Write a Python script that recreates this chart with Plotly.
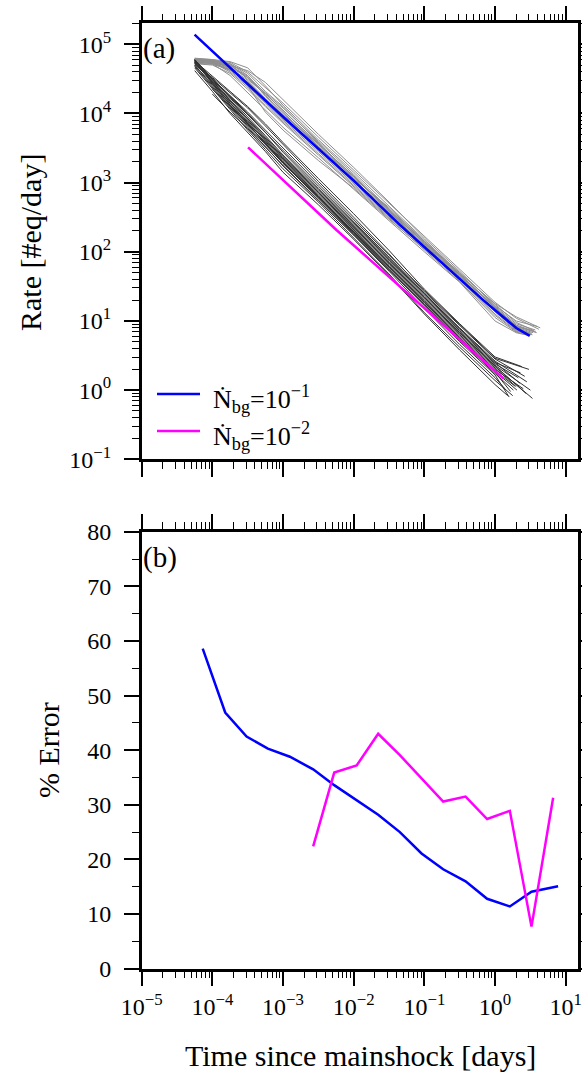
import plotly.graph_objects as go

# ---------------------------------------------------------------- data
# Panel (a): rates of individual synthetic sequences, given as log10(rate)
# sampled on a shared log10(time) grid, followed by each curve's last point.
LIGHT_LOG_T = [-4.25, -4.0, -3.75, -3.5, -3.25, -3.0, -2.5, -2.0, -1.5, -1.0, -0.5, 0.0, 0.3]
LIGHT_LOG_RATE = [
    [4.78, 4.76, 4.70, 4.52, 4.30, 4.08, 3.60, 3.12, 2.62, 2.15, 1.70, 1.24, 0.98],
    [4.75, 4.74, 4.62, 4.40, 4.15, 3.90, 3.45, 2.98, 2.52, 2.05, 1.60, 1.10, 0.86],
    [4.79, 4.77, 4.74, 4.60, 4.38, 4.15, 3.66, 3.18, 2.70, 2.22, 1.74, 1.27, 1.04],
    [4.72, 4.70, 4.58, 4.35, 4.10, 3.86, 3.40, 2.94, 2.49, 2.02, 1.57, 1.05, 0.84],
    [4.80, 4.78, 4.72, 4.55, 4.25, 4.00, 3.52, 3.08, 2.60, 2.12, 1.66, 1.20, 0.92],
    [4.77, 4.75, 4.66, 4.48, 4.22, 3.98, 3.56, 3.05, 2.55, 2.08, 1.63, 1.16, 0.90],
    [4.74, 4.73, 4.69, 4.62, 4.45, 4.20, 3.70, 3.22, 2.72, 2.20, 1.72, 1.22, 1.00],
    [4.76, 4.72, 4.55, 4.30, 4.05, 3.80, 3.36, 2.90, 2.45, 2.00, 1.56, 1.00, 0.83],
    [4.78, 4.77, 4.71, 4.50, 4.28, 4.05, 3.55, 3.10, 2.58, 2.14, 1.68, 1.19, 0.94],
    [4.73, 4.71, 4.64, 4.45, 4.18, 3.93, 3.47, 3.00, 2.54, 2.10, 1.62, 1.14, 0.88],
    [4.79, 4.78, 4.75, 4.66, 4.40, 4.12, 3.62, 3.15, 2.66, 2.18, 1.69, 1.25, 1.06],
    [4.75, 4.74, 4.60, 4.38, 4.12, 3.88, 3.42, 2.96, 2.50, 2.06, 1.59, 1.08, 0.85],
    [4.77, 4.76, 4.68, 4.40, 4.02, 3.76, 3.32, 2.92, 2.47, 2.04, 1.61, 1.13, 0.87],
    [4.78, 4.75, 4.72, 4.58, 4.32, 4.10, 3.58, 3.06, 2.64, 2.16, 1.67, 1.21, 0.96],
    [4.74, 4.72, 4.63, 4.46, 4.20, 3.96, 3.50, 3.02, 2.57, 2.11, 1.65, 1.18, 0.91],
    [4.76, 4.74, 4.67, 4.52, 4.26, 4.02, 3.53, 3.04, 2.59, 2.07, 1.61, 1.17, 0.89],
    [4.77, 4.75, 4.69, 4.54, 4.29, 4.04, 3.57, 3.09, 2.61, 2.13, 1.67, 1.19, 0.93],
    [4.75, 4.73, 4.65, 4.43, 4.16, 3.92, 3.48, 3.01, 2.56, 2.09, 1.64, 1.15, 0.89],
]
LIGHT_END = [
    (0.55, 0.86), (0.50, 0.80), (0.62, 0.88), (0.45, 0.80), (0.58, 0.84), (0.52, 0.82),
    (0.60, 0.92), (0.48, 0.79), (0.56, 0.85), (0.50, 0.81), (0.64, 0.90), (0.53, 0.80),
    (0.47, 0.82), (0.57, 0.87), (0.54, 0.83), (0.51, 0.81), (0.59, 0.83), (0.49, 0.82),
]

DARK_LOG_T = [-4.25, -4.0, -3.75, -3.5, -3.25, -3.0, -2.5, -2.0, -1.5, -1.0, -0.5, 0.0]
DARK_LOG_RATE = [
    [4.78, 4.50, 4.22, 3.95, 3.68, 3.40, 2.90, 2.40, 1.90, 1.38, 0.88, 0.40],
    [4.75, 4.45, 4.15, 3.88, 3.60, 3.32, 2.82, 2.32, 1.82, 1.30, 0.80, 0.32],
    [4.72, 4.52, 4.30, 4.08, 3.82, 3.55, 3.02, 2.50, 1.97, 1.42, 0.93, 0.45],
    [4.70, 4.40, 4.10, 3.82, 3.55, 3.28, 2.78, 2.28, 1.76, 1.24, 0.74, 0.26],
    [None, 4.28, 4.02, 3.78, 3.52, 3.25, 2.75, 2.25, 1.74, 1.22, 0.70, 0.22],
    [4.77, 4.48, 4.20, 3.92, 3.64, 3.36, 2.86, 2.36, 1.86, 1.34, 0.84, 0.36],
    [4.66, 4.36, 4.05, 3.76, 3.48, 3.20, 2.72, 2.20, 1.68, 1.12, 0.62, 0.14],
    [4.76, 4.54, 4.32, 4.10, 3.85, 3.58, 3.06, 2.55, 2.02, 1.46, 0.96, 0.48],
    [4.74, 4.46, 4.18, 3.90, 3.62, 3.34, 2.84, 2.34, 1.84, 1.32, 0.82, 0.34],
    [4.62, 4.32, 4.00, 3.72, 3.45, 3.15, 2.68, 2.18, 1.66, 1.10, 0.58, 0.08],
    [4.78, 4.50, 4.24, 3.98, 3.72, 3.46, 2.95, 2.44, 1.92, 1.40, 0.90, 0.42],
    [4.70, 4.42, 4.12, 3.84, 3.58, 3.30, 2.80, 2.30, 1.80, 1.28, 0.78, 0.30],
    [None, None, 4.12, 3.85, 3.58, 3.30, 2.80, 2.28, 1.78, 1.26, 0.76, 0.28],
    [4.73, 4.47, 4.19, 3.93, 3.66, 3.38, 2.88, 2.38, 1.88, 1.36, 0.86, 0.38],
    [4.68, 4.38, 4.08, 3.80, 3.52, 3.24, 2.74, 2.24, 1.72, 1.18, 0.66, 0.18],
    [4.76, 4.50, 4.26, 4.02, 3.76, 3.50, 2.98, 2.46, 1.95, 1.44, 0.95, 0.46],
    [4.74, 4.44, 4.16, 3.86, 3.56, 3.28, 2.78, 2.26, 1.75, 1.24, 0.72, 0.24],
    [None, 4.35, 4.10, 3.86, 3.62, 3.36, 2.86, 2.35, 1.84, 1.33, 0.83, 0.35],
    [4.71, 4.49, 4.25, 4.00, 3.73, 3.44, 2.92, 2.42, 1.92, 1.40, 0.89, 0.40],
    [4.77, 4.43, 4.13, 3.85, 3.57, 3.29, 2.79, 2.29, 1.79, 1.27, 0.75, 0.27],
]
DARK_END = [
    (0.35, 0.10), (0.30, 0.05), (0.42, 0.20), (0.22, -0.02), (0.20, -0.10), (0.50, 0.00),
    (0.25, -0.08), (0.38, 0.34), (0.53, -0.12), (0.18, -0.08), (0.45, 0.12), (0.40, 0.02),
    (0.28, 0.06), (0.33, 0.18), (0.14, 0.02), (0.48, 0.30), (0.26, 0.00), (0.44, -0.05),
    (0.36, 0.25), (0.31, 0.00),
]

# Fitted rate models for the two background rates
FIT1_T = [5.6e-5, 8.9e-4, 1.0e-2, 4.5e-2, 0.68, 2.0, 3.1]
FIT1_RATE = [1.38e5, 1.0e4, 1.07e3, 245, 20.0, 7.9, 6.1]
FIT2_T = [3.2e-4, 5.7e-3, 0.0736, 0.206, 1.32]
FIT2_RATE = [3240, 207, 20.2, 7.9, 1.47]

# Panel (b): percentage error of the fits
ERR1_T = [7.3e-5, 1.52e-4, 3.05e-4, 6.1e-4, 1.25e-3, 2.67e-3, 5.3e-3, 0.011, 0.0222,
          0.045, 0.0912, 0.1845, 0.383, 0.773, 1.62, 3.28, 7.8]
ERR1 = [58.6, 46.9, 42.5, 40.3, 38.8, 36.5, 33.6, 30.9, 28.2, 25.0, 21.1, 18.2, 16.0,
        12.8, 11.4, 14.1, 15.1]
ERR2_T = [2.67e-3, 5.3e-3, 0.011, 0.0222, 0.045, 0.0912, 0.1845, 0.383, 0.773, 1.62,
          3.28, 6.64]
ERR2 = [22.4, 35.9, 37.2, 43.0, 39.1, 34.8, 30.6, 31.5, 27.4, 28.9, 7.7, 31.3]

LEGEND_LABELS = ["Ṅ<sub>bg</sub>=10<sup>−1</sup>", "Ṅ<sub>bg</sub>=10<sup>−2</sup>"]
X_DECADES = list(range(-5, 2))
Y_DECADES = list(range(-1, 6))

# ---------------------------------------------------------------- style
W, H = 582, 1072
FONT = "Liberation Serif"
BLUE = "rgb(0,0,255)"
MAGENTA = "rgb(255,0,255)"
LIGHT = "rgb(142,142,142)"
DARK = "rgb(48,48,48)"


def px(x):
    return x / W


def py(y):
    return 1 - y / H


def power_label(k):
    return "10<sup>" + str(k).replace("-", "−") + "</sup>"


def log_minor(lo, hi):
    return [m * 10.0 ** k for k in range(lo, hi + 1) for m in range(2, 10)]


fig = go.Figure()

for vals, (et, er) in zip(LIGHT_LOG_RATE, LIGHT_END):
    xs = [10 ** t for t, v in zip(LIGHT_LOG_T, vals) if v is not None] + [10 ** et]
    ys = [10 ** v for v in vals if v is not None] + [10 ** er]
    fig.add_trace(go.Scatter(x=xs, y=ys, mode="lines", showlegend=False,
                             line=dict(color=LIGHT, width=1), xaxis="x", yaxis="y"))

for vals, (et, er) in zip(DARK_LOG_RATE, DARK_END):
    xs = [10 ** t for t, v in zip(DARK_LOG_T, vals) if v is not None] + [10 ** et]
    ys = [10 ** v for v in vals if v is not None] + [10 ** er]
    fig.add_trace(go.Scatter(x=xs, y=ys, mode="lines", showlegend=False,
                             line=dict(color=DARK, width=1), xaxis="x", yaxis="y"))

fig.add_trace(go.Scatter(x=FIT1_T, y=FIT1_RATE, mode="lines", showlegend=False,
                         line=dict(color=BLUE, width=2.5), xaxis="x", yaxis="y"))
fig.add_trace(go.Scatter(x=FIT2_T, y=FIT2_RATE, mode="lines", showlegend=False,
                         line=dict(color=MAGENTA, width=2.5), xaxis="x", yaxis="y"))

fig.add_trace(go.Scatter(x=ERR1_T, y=ERR1, mode="lines", showlegend=False,
                         line=dict(color=BLUE, width=2.5), xaxis="x2", yaxis="y2"))
fig.add_trace(go.Scatter(x=ERR2_T, y=ERR2, mode="lines", showlegend=False,
                         line=dict(color=MAGENTA, width=2.5), xaxis="x2", yaxis="y2"))

tickfont = dict(family=FONT, size=24, color="black")
frame = dict(showline=True, linewidth=2.5, linecolor="black", mirror="allticks",
             ticks="outside", ticklen=15, tickwidth=1.5, tickcolor="black",
             showgrid=False, zeroline=False, tickfont=tickfont, automargin=False)
minor_style = dict(ticks="outside", ticklen=7, tickwidth=1, tickcolor="black", showgrid=False)

x_dom = [px(141.7), px(578)]
xaxis_common = dict(frame, type="log", range=[-5, 1.174], domain=x_dom,
                    tickmode="array", tickvals=[10.0 ** k for k in X_DECADES],
                    ticktext=[power_label(k) for k in X_DECADES],
                    minor=dict(minor_style, tickmode="array", tickvals=log_minor(-5, 1)))

fig.update_layout(
    width=W, height=H, margin=dict(l=0, r=0, t=0, b=0, autoexpand=False),
    paper_bgcolor="white", plot_bgcolor="white", showlegend=False,
    font=dict(family=FONT, color="black"),
    xaxis=dict(xaxis_common, anchor="y", showticklabels=False),
    yaxis=dict(frame, type="log", range=[-1, 5.304], domain=[py(459.3), py(23.3)],
               anchor="x", tickmode="array", tickvals=[10.0 ** k for k in Y_DECADES],
               ticktext=[power_label(k) for k in Y_DECADES], ticklabelstandoff=8,
               minor=dict(minor_style, tickmode="array", tickvals=log_minor(-1, 5))),
    xaxis2=dict(xaxis_common, anchor="y2", showticklabels=True),
    yaxis2=dict(frame, range=[0, 80], domain=[py(968.7), py(531.7)], anchor="x2",
                tickmode="linear", tick0=0, dtick=10, ticklabelstandoff=8,
                minor=dict(minor_style, tickmode="linear", tick0=0, dtick=5)),
)

title_font = dict(family=FONT, size=30, color="black")
fig.add_annotation(text="Rate [#eq/day]", x=px(30), y=py(243), xref="paper", yref="paper",
                   textangle=-90, showarrow=False, font=title_font,
                   xanchor="center", yanchor="middle")
fig.add_annotation(text="% Error", x=px(48), y=py(750), xref="paper", yref="paper",
                   textangle=-90, showarrow=False, font=title_font,
                   xanchor="center", yanchor="middle")
fig.add_annotation(text="Time since mainshock [days]", x=px(360), y=py(1055),
                   xref="paper", yref="paper", showarrow=False, font=title_font,
                   xanchor="center", yanchor="middle")

panel_font = dict(family=FONT, size=29, color="black")
fig.add_annotation(text="(a)", x=px(141), y=py(30), xref="paper", yref="paper",
                   showarrow=False, font=panel_font, xanchor="left", yanchor="top")
fig.add_annotation(text="(b)", x=px(141), y=py(539), xref="paper", yref="paper",
                   showarrow=False, font=panel_font, xanchor="left", yanchor="top")

# legend for the two fitted models
legend_font = dict(family=FONT, size=26, color="black")
for label, color, yline in zip(LEGEND_LABELS, [BLUE, MAGENTA], [394, 431]):
    fig.add_shape(type="line", xref="paper", yref="paper",
                  x0=px(157), x1=px(200), y0=py(yline), y1=py(yline),
                  line=dict(color=color, width=2.5))
    fig.add_annotation(text=label, x=px(211), y=py(yline + 5), xref="paper", yref="paper",
                       showarrow=False, font=legend_font, xanchor="left", yanchor="middle")

fig.write_html("out.html")
